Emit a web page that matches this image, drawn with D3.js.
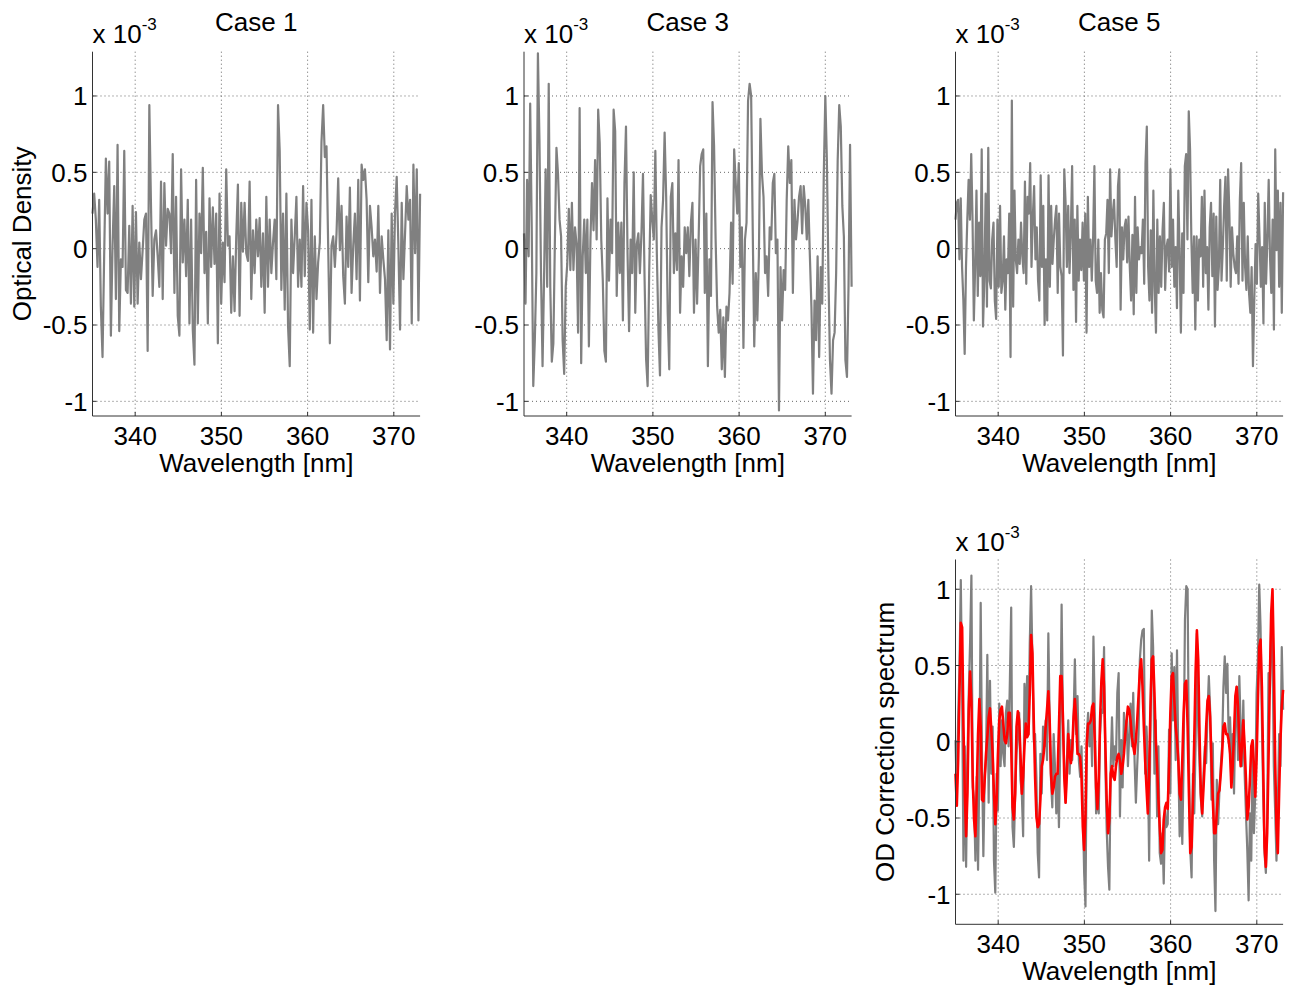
<!DOCTYPE html>
<html>
<head>
<meta charset="utf-8">
<script src="https://cdn.jsdelivr.net/npm/d3@7"></script>
<style>
  body { margin: 0; background: #fff; }
  text { font-family: "Liberation Sans", Arial, Helvetica, sans-serif; fill: #000; }
</style>
</head>
<body>
<div id="chart"></div>
<script>
// Values are in units of 1e-5 OD (i.e. 1/100 of the "x 10^-3" axis unit),
// sampled evenly over the wavelength window.
const wlRange = [335.05, 373.05];
const xTicks = [340, 350, 360, 370];
const yTicks = [-1, -0.5, 0, 0.5, 1];

const case1 = [23,36,19,-12,32,-38,-71,-3,59,23,
  57,-57,2,41,-33,68,-54,-7,-12,64,
  -27,-29,15,-36,28,-38,24,-36,4,-20,
  -1,19,23,-67,94,28,-31,6,12,-5,
  -25,44,-33,43,2,26,23,-3,62,-29,
  34,-44,-57,52,-9,19,-18,32,-49,19,
  -53,-76,45,-49,23,-3,53,-16,11,-49,
  33,-12,27,-10,23,-62,36,-36,4,-22,
  52,2,8,-42,-5,-41,8,42,-44,30,
  -2,30,-3,-8,44,-33,12,-16,19,-5,20,
  -25,10,-42,34,-25,19,-16,4,19,-20,
  94,64,-27,23,-40,36,-51,-77,19,-16,
  8,34,-25,6,-25,41,-18,30,12,-53,
  32,-55,8,-33,-9,4,70,94,60,67,
  2,-62,2,8,-12,10,46,-1,28,-18,
  -36,21,-12,40,-29,2,23,-20,45,-34,
  55,45,52,32,-22,28,14,-5,6,-15,
  28,-29,8,-7,-20,-60,12,-66,23,-36,
  24,47,2,-53,30,-20,10,41,19,32,
  -49,55,-3,52,-47,36];

const case3 = [10,-36,45,-5,95,14,-90,-60,-16,128,71,-16,-77,-18,52,-25,108,-25,-74,-62,
  6,66,49,19,8,-60,-82,-25,-10,26,-14,30,-14,14,3,-55,92,-75,-5,19,
  -16,19,-64,6,43,12,58,6,91,69,6,-21,-67,-74,33,-21,19,-3,91,77,
  -31,17,-16,17,-47,43,80,-3,-54,6,-16,50,-42,3,10,-16,10,49,-18,-72,
  -90,-16,35,19,6,64,-5,-53,-83,14,32,76,34,-42,-79,34,
  43,-16,10,-14,58,-42,-5,-25,14,-3,14,-18,17,30,-42,6,-36,6,54,62,
  65,-29,23,-77,-7,-31,96,67,6,-38,-55,-40,-79,-45,-84,-38,-47,-29,17,-23,
  65,43,23,56,-12,14,-65,6,17,97,108,100,14,-64,-16,-47,-5,85,49,34,
  -16,-5,-31,14,6,43,49,-3,6,-106,-12,-47,-14,-27,32,67,43,58,-29,32,
  6,18,34,41,10,41,28,6,32,-5,-38,-95,-34,-60,-5,-71,-12,-36,49,100,
  58,-16,-73,-95,-60,-55,-16,58,94,80,28,8,-73,-84,-25,68,-25];

const case5 = [19,30,32,-7,33,-12,-34,-69,-12,19,45,19,62,19,-47,-12,38,-31,17,-18,
  65,-51,-21,36,-38,66,-21,-26,6,17,-34,-46,19,-25,28,-29,-21,8,-40,-7,
  -16,23,-71,97,-38,38,-7,-16,6,-10,17,-5,-16,44,-23,34,23,56,-12,21,
  41,-7,14,-21,-34,48,-12,28,-50,-7,-47,48,-25,28,-10,6,19,28,-29,23,
  -12,-18,-70,52,30,-12,28,-16,10,54,-27,19,-48,28,-21,6,-14,17,-21,23,
  -55,34,-12,6,-21,6,54,-21,-29,6,-42,-16,-40,-45,6,10,32,-16,52,
  8,23,32,6,-12,41,52,-40,14,-7,14,19,-9,21,-12,-34,9,-43,34,-29,
  14,-7,1,-3,19,-23,56,80,-12,-34,12,-42,38,-25,-55,19,-29,8,-25,12,
  30,-27,1,6,-15,52,-12,19,-25,1,-39,38,-1,-55,10,-29,54,62,6,90,
  65,6,-29,8,-53,8,-34,6,-5,34,-25,38,-16,1,-40,14,30,-18,23,-51,
  21,-27,-12,45,-21,1,28,47,-21,52,23,-25,14,-3,-12,-16,8,-23,32,56,
  -21,30,-12,-27,8,-29,-42,-12,-77,-34,3,-23,36,8,-25,1,-49,30,-23,6,
  45,-5,-29,19,-53,65,-1,38,-25,30,-42,37];

const odMeasured = [1,-34,16,49,106,32,-78,-3,-82,-12,
  32,65,109,-30,-38,-78,-23,-84,-16,91,
  -12,-75,-23,-12,57,-40,40,-21,10,-78,
  -99,-21,-45,25,-16,14,-8,-16,19,27,
  -3,40,88,-56,-69,-34,-8,5,19,-25,
  -34,-62,38,12,43,5,65,102,54,1,
  5,-23,-73,-89,-8,-34,10,-3,14,-12,
  71,14,-25,-43,5,-16,-47,-21,-56,1,
  90,14,-16,-40,-12,14,-21,1,-12,14,
  54,5,30,-12,-23,-3,-43,-86,-108,5,
  19,-3,14,-16,69,19,-47,-34,-47,5,
  21,19,62,-16,-58,-82,-97,
  -16,16,-16,-3,-12,32,45,-49,1,-30,
  19,1,14,-16,5,25,-3,32,-12,-40,
  -16,5,54,67,73,74,-21,10,-12,-78,
  10,86,62,-21,14,-49,-3,-73,-80,-60,
  -93,-45,-56,-54,8,-34,58,14,49,-12,
  60,-12,-62,-34,-67,-12,80,102,100,-12,
  -71,-89,-21,-47,-3,71,10,-16,-38,-49,
  -21,-3,-14,19,43,21,-38,-1,-78,-111,
  -25,-54,-32,-16,-3,36,56,32,51,-1,
  16,-12,5,-34,16,36,-12,43,10,-16,
  27,-21,-47,-71,-104,-47,-78,-8,-60,-34,
  32,54,103,75,14,-34,-73,-86,-51,45,
  32,75,62,-16,-45,-78,-43,5,-16,62,
  21];

const odFitted = [-21,-42,-12,32,78,75,10,-34,-62,-34,
  21,46,27,-25,-51,-62,-32,5,28,10,
  -38,-39,-25,-8,3,16,22,8,-8,-34,
  -54,-38,-8,14,21,23,12,1,-1,5,
  19,19,-3,-43,-51,-34,10,20,14,-8,
  -34,-23,-3,12,3,5,32,70,58,14,
  -23,-49,-56,-54,-38,-16,-12,-3,10,21,
  33,14,-21,-34,-30,-23,-21,-21,10,43,
  43,16,-23,-40,-21,5,-8,-14,-5,16,
  28,14,-8,-8,-10,-23,-56,-71,-47,-1,
  12,12,14,23,25,1,-30,-44,-25,14,
  40,54,36,-3,-38,-60,-51,
  -21,-16,-23,-25,-16,-10,-8,-12,-21,-16,
  -8,5,14,23,21,14,3,-3,-8,1,
  14,30,47,54,36,10,-12,-30,-47,-21,
  23,54,56,32,1,-16,-38,-56,-73,-71,
  -51,-43,-40,-44,-16,19,43,45,27,10,
  1,-12,-34,-38,-12,19,38,40,10,-34,
  -73,-69,-38,1,45,73,54,5,-34,-47,
  -30,-12,10,27,30,16,-12,-38,-60,-60,
  -47,-34,-32,-21,-8,10,12,5,5,1,
  -8,-30,-16,5,30,36,23,1,-16,-3,
  14,-3,-25,-51,-43,-25,-3,1,-16,-36,
  -12,27,62,67,36,-16,-69,-82,-60,-12,
  40,84,100,54,-12,-56,-73,-34,1,23,
  34];

const GRAY = "#808080";
const RED = "#ff0000";

const svg = d3.select("#chart")
  .append("svg")
  .attr("width", 1290)
  .attr("height", 990);

const plotWidth = 327.6;

const panels = [
  { left: 92.5, top: 51.7, bottom: 416, yDomain: [-1.096, 1.29], title: "Case 1", ylabel: "Optical Density",
    series: [{ values: case1, color: GRAY, width: 2.2 }] },
  { left: 524, top: 51.7, bottom: 416, yDomain: [-1.096, 1.29], title: "Case 3", ylabel: null,
    series: [{ values: case3, color: GRAY, width: 2.2 }] },
  { left: 955.5, top: 51.7, bottom: 416, yDomain: [-1.096, 1.29], title: "Case 5", ylabel: null,
    series: [{ values: case5, color: GRAY, width: 2.2 }] },
  { left: 955.5, top: 559.5, bottom: 924.3, yDomain: [-1.197, 1.195], title: null, ylabel: "OD Correction spectrum",
    series: [{ values: odMeasured, color: GRAY, width: 2.2 }, { values: odFitted, color: RED, width: 2.6 }] }
];

const fmt = d => d === 0 ? "0" : String(d);

panels.forEach(p => {
  const x = d3.scaleLinear().domain(wlRange).range([p.left, p.left + plotWidth]);
  const y = d3.scaleLinear().domain(p.yDomain).range([p.bottom, p.top]);
  const g = svg.append("g");

  // dotted grid
  g.selectAll("line.gx").data(xTicks).enter().append("line")
    .attr("x1", d => x(d)).attr("x2", d => x(d))
    .attr("y1", p.top).attr("y2", p.bottom)
    .attr("stroke", "#666").attr("stroke-width", 1).attr("stroke-dasharray", "1,3");
  g.selectAll("line.gy").data(yTicks).enter().append("line")
    .attr("x1", p.left).attr("x2", p.left + plotWidth)
    .attr("y1", d => y(d)).attr("y2", d => y(d))
    .attr("stroke", "#666").attr("stroke-width", 1).attr("stroke-dasharray", "1,3");

  // data lines
  p.series.forEach(s => {
    const n = s.values.length;
    const pts = s.values.map((v, i) => [wlRange[0] + i * (wlRange[1] - wlRange[0]) / (n - 1), v / 100]);
    g.append("path")
      .datum(pts)
      .attr("fill", "none")
      .attr("stroke", s.color)
      .attr("stroke-width", s.width)
      .attr("stroke-linejoin", "round")
      .attr("d", d3.line().x(d => x(d[0])).y(d => y(d[1])));
  });

  // axes (left + bottom only), ticks pointing inward
  const axisG = g.append("g").attr("stroke", "#333").attr("stroke-width", 1);
  axisG.append("line").attr("x1", p.left).attr("x2", p.left).attr("y1", p.top).attr("y2", p.bottom);
  axisG.append("line").attr("x1", p.left).attr("x2", p.left + plotWidth).attr("y1", p.bottom).attr("y2", p.bottom);
  xTicks.forEach(t => axisG.append("line").attr("x1", x(t)).attr("x2", x(t)).attr("y1", p.bottom).attr("y2", p.bottom - 4));
  yTicks.forEach(t => axisG.append("line").attr("x1", p.left).attr("x2", p.left + 4).attr("y1", y(t)).attr("y2", y(t)));

  // tick labels
  g.selectAll("text.xt").data(xTicks).enter().append("text")
    .attr("x", d => x(d)).attr("y", p.bottom + 28.5)
    .attr("text-anchor", "middle").attr("font-size", 26)
    .text(d => d);
  g.selectAll("text.yt").data(yTicks).enter().append("text")
    .attr("x", p.left - 5).attr("y", d => y(d) + 9.3)
    .attr("text-anchor", "end").attr("font-size", 26)
    .text(fmt);

  // exponent label
  const ex = g.append("text").attr("x", p.left).attr("y", p.top - 8.5).attr("font-size", 26);
  ex.append("tspan").text("x 10");
  ex.append("tspan").attr("font-size", 17).attr("dy", -13).text("-3");

  // x label
  g.append("text")
    .attr("x", p.left + plotWidth / 2).attr("y", p.bottom + 55.5)
    .attr("text-anchor", "middle").attr("font-size", 26)
    .text("Wavelength [nm]");

  if (p.title) {
    g.append("text")
      .attr("x", p.left + plotWidth / 2).attr("y", 31)
      .attr("text-anchor", "middle").attr("font-size", 26)
      .text(p.title);
  }

  if (p.ylabel) {
    g.append("text")
      .attr("transform", `translate(${p.left - 61.5}, ${(p.top + p.bottom) / 2}) rotate(-90)`)
      .attr("text-anchor", "middle").attr("font-size", 26)
      .text(p.ylabel);
  }
});
</script>
</body>
</html>
